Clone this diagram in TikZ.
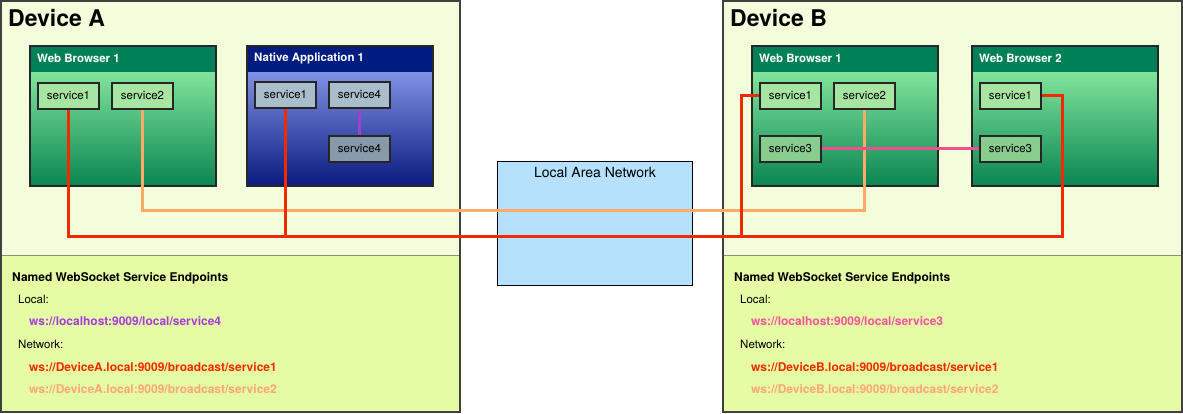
\documentclass[tikz,border=0pt]{standalone}
\usepackage{fontspec}
\setmainfont{TeX Gyre Heros}
\usetikzlibrary{positioning, calc}

\definecolor{devtop}{HTML}{F3FDDB}
\definecolor{devbot}{HTML}{E6FCA4}
\definecolor{wbhead}{HTML}{008056}
\definecolor{wbtop}{HTML}{9CFAAC}
\definecolor{wbbot}{HTML}{0A8552}
\definecolor{nahead}{HTML}{001C80}
\definecolor{natop}{HTML}{9AACFC}
\definecolor{nabot}{HTML}{0A1A7E}
\definecolor{svcg}{HTML}{A6E6A2}
\definecolor{svcgd}{HTML}{88CC8E}
\definecolor{svcb}{HTML}{A8BECA}
\definecolor{svcbd}{HTML}{889AAA}
\definecolor{lanfill}{HTML}{B5E1FC}
\definecolor{redln}{HTML}{F22A00}
\definecolor{orgln}{HTML}{FFAA66}
\definecolor{pinkln}{HTML}{F0508E}
\definecolor{purpln}{HTML}{A23FD0}
\definecolor{purptx}{HTML}{A43ED8}
\definecolor{pinktx}{HTML}{F2529E}
\definecolor{orgtx}{HTML}{FFA578}

\begin{document}
\begin{tikzpicture}[x=1pt, y=-1pt,
    dev/.style={draw=black!75, line width=2pt, fill=devtop, anchor=north west, inner sep=0,
      minimum width=459pt, minimum height=411pt,
      path picture={\fill[devbot] ([yshift=157pt]path picture bounding box.south west) rectangle (path picture bounding box.south east);
        \draw[black!45, line width=1pt] ([yshift=157pt]path picture bounding box.south west) -- ([yshift=157pt]path picture bounding box.south east);}},
    devtitle/.style={anchor=base west, inner sep=0, font=\bfseries\fontsize{23}{26}\selectfont},
    app/.style={draw=black!85, line width=2pt, anchor=north west, inner sep=0, minimum width=186pt, minimum height=140pt},
    hdr/.style={path picture={\fill[#1] (path picture bounding box.north west) rectangle ([yshift=-26pt]path picture bounding box.north east);}},
    browser/.style={app, top color=wbtop, bottom color=wbbot, hdr=wbhead},
    native/.style={app, top color=natop, bottom color=nabot, hdr=nahead},
    apptitle/.style={anchor=west, inner sep=0, text=white, font=\bfseries\fontsize{11.5}{13}\selectfont},
    svc/.style={draw=black!85, line width=2pt, fill=#1, anchor=north west, inner sep=0,
      minimum width=61pt, minimum height=26pt, font=\fontsize{11.5}{13}\selectfont},
    lanbox/.style={draw=black, line width=1pt, fill=lanfill, anchor=north west, minimum width=195pt, minimum height=124pt},
    wire/.style={line width=3pt, draw=#1},
    ep/.style={anchor=base west, inner sep=0, font=\fontsize{11.5}{13}\selectfont},
    epb/.style={anchor=base west, inner sep=0, font=\bfseries\fontsize{12}{14}\selectfont}]

  % devices and network
  \useasboundingbox (0,0) rectangle (1183,414);
  \node[dev] (devA) at (0,0) {};
  \node[dev] (devB) at (722,0) {};
  \node[lanbox] (lan) at (497,161) {};
  \node[inner sep=0, font=\fontsize{14}{16}\selectfont, below=6pt of lan.north] (lant) {Local Area Network};

  % applications
  \node[browser] (wbA1) at (29,45) {};
  \node[native] (naA1) at (246,45) {};
  \node[browser] (wbB1) at (751,45) {};
  \node[browser] (wbB2) at (971,45) {};
  \foreach \a/\t in {wbA1/Web Browser 1, naA1/Native Application 1, wbB1/Web Browser 1, wbB2/Web Browser 2}
    \node[apptitle] (\a t) at ([shift={(8,13)}]\a.north west) {\t};

  % services
  \node[svc=svcg] (sA1) at ([shift={(8,37)}]wbA1.north west) {service1};
  \node[svc=svcg, right=11pt of sA1] (sA2) {service2};
  \node[svc=svcb] (nA1) at ([shift={(8,36)}]naA1.north west) {service1};
  \node[svc=svcb, right=11pt of nA1] (nA4) {service4};
  \node[svc=svcbd, below=26pt of nA4] (nA4b) {service4};
  \node[svc=svcg] (sB1) at ([shift={(8,37)}]wbB1.north west) {service1};
  \node[svc=svcg, right=11pt of sB1] (sB2) {service2};
  \node[svc=svcgd, below=25pt of sB1] (sB3) {service3};
  \node[svc=svcg] (tB1) at ([shift={(8,37)}]wbB2.north west) {service1};
  \node[svc=svcgd, below=25pt of tB1] (tB3) {service3};

  % connections
  \coordinate (orgbus) at (0,211);
  \coordinate (redbus) at (1062,236);
  \coordinate (redtap) at (741,236);
  \draw[wire=orgln] (sA2.south) |- (orgbus -| sB2.south) -- (sB2.south);
  \draw[wire=redln] (sA1.south) |- (redbus) |- (tB1.east);
  \draw[wire=redln] (nA1.south) -- (nA1.south |- redbus);
  \draw[wire=redln] (sB1.west) -| (redtap);
  \draw[wire=pinkln] (sB3.east) -- (tB3.west);
  \draw[wire=purpln] (nA4.south) -- (nA4b.north);

  % endpoint lists
  \foreach \d/\o/\c/\s in {A/0/purptx/4, B/722/pinktx/3}{
    \node[devtitle] (title\d) at (8+\o,27) {Device \d};
    \node[epb] (ep\d) at (12+\o,281) {Named WebSocket Service Endpoints};
    \node[ep] (loc\d) at (18+\o,303) {Local:};
    \node[epb, text=\c] (wsl\d) at (29+\o,325) {ws://localhost:9009/local/service\s};
    \node[ep] (net\d) at (18+\o,348) {Network:};
    \node[epb, text=redln] (wsa\d) at (29+\o,371) {ws://Device\d.local:9009/broadcast/service1};
    \node[epb, text=orgtx] (wsb\d) at (29+\o,393) {ws://Device\d.local:9009/broadcast/service2};
  }
\end{tikzpicture}
\end{document}
